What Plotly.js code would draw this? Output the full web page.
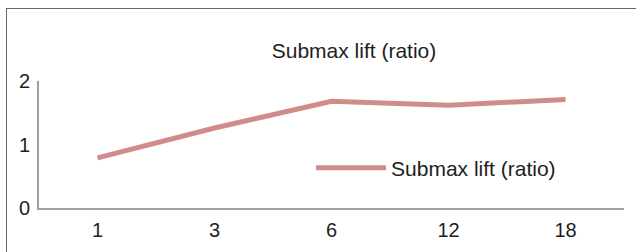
<!DOCTYPE html>
<html><head><meta charset="utf-8">
<script src="https://cdn.plot.ly/plotly-3.0.1.min.js"></script>
<style>
html,body{margin:0;padding:0;background:#fff;}
#wrap{position:relative;width:636px;height:252px;overflow:hidden;}
#frame{position:absolute;left:6px;top:8px;width:640px;height:260px;border-left:1px solid #666;border-top:1px solid #666;pointer-events:none;}
#chart{position:absolute;left:0;top:0;width:636px;height:252px;}
</style>
</head><body>
<div id="wrap"><div id="chart"></div><div id="frame"></div></div>
<script>
const categories = ['1', '3', '6', '12', '18'];
const liftRatio = [0.79, 1.26, 1.68, 1.62, 1.71];
const seriesName = 'Submax lift (ratio)';
const chartTitle = 'Submax lift (ratio)';

const trace = {
  x: categories, y: liftRatio, type: 'scatter', mode: 'lines', name: seriesName,
  line: {color: '#d08c8b', width: 5}
};
const layout = {
  width: 636, height: 252,
  margin: {l: 39, r: 12, t: 81, b: 44},
  paper_bgcolor: '#fff', plot_bgcolor: '#fff',
  font: {family: 'Liberation Sans, Arial, sans-serif', color: '#1e1e1e', size: 20},
  title: {text: chartTitle, x: 354/636, xref: 'container', xanchor: 'center', y: 1 - 51/252, yref: 'container', yanchor: 'middle', font: {size: 21, color: '#1e1e1e'}},
  showlegend: true,
  legend: {x: 0.465, y: 0.315, xanchor: 'left', yanchor: 'middle', bgcolor: 'rgba(0,0,0,0)', font: {size: 21}, itemwidth: 70},
  xaxis: {type: 'category', showgrid: false, zeroline: false, showline: true, linecolor: '#a0a0a0', linewidth: 2,
    tickfont: {size: 20}, ticks: 'outside', ticklen: 3, tickcolor: 'rgba(0,0,0,0)', range: [-0.5, 4.5], fixedrange: true},
  yaxis: {range: [0, 2], dtick: 1, showgrid: false, zeroline: false, showline: true, linecolor: '#a0a0a0', linewidth: 2,
    tickfont: {size: 20}, ticks: 'outside', ticklen: 3, tickcolor: 'rgba(0,0,0,0)', fixedrange: true}
};
Plotly.newPlot('chart', [trace], layout, {displayModeBar: false, staticPlot: true});
</script>
</body></html>
